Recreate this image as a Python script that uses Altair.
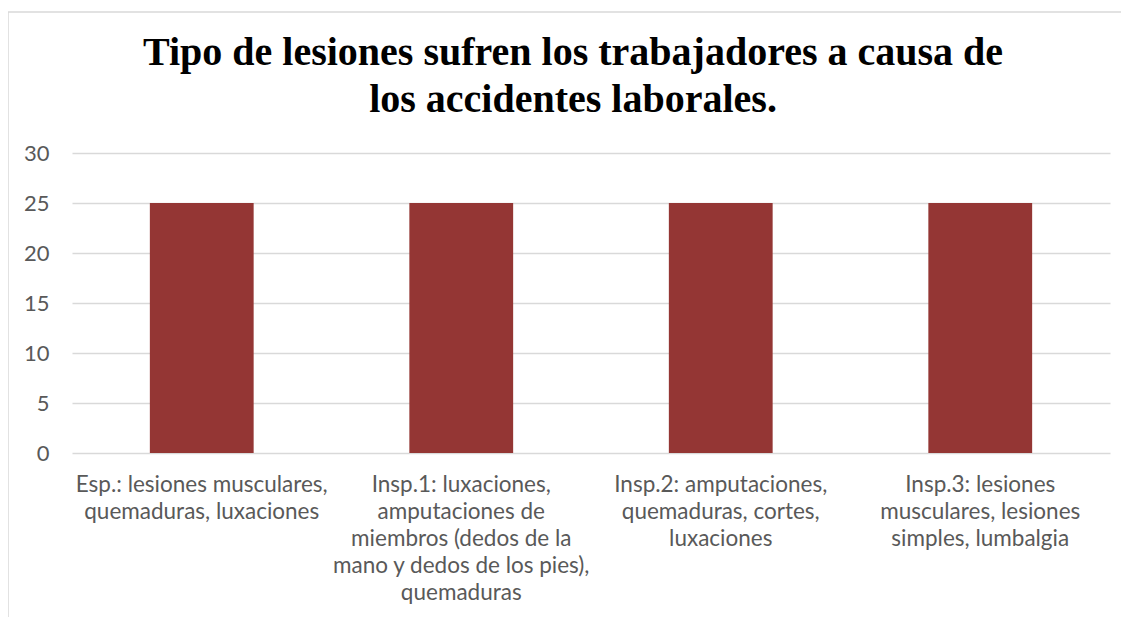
import altair as alt
import pandas as pd

categories = [
    "Esp.: lesiones musculares,\nquemaduras, luxaciones",
    "Insp.1: luxaciones,\namputaciones de\nmiembros (dedos de la\nmano y dedos de los pies),\nquemaduras",
    "Insp.2: amputaciones,\nquemaduras, cortes,\nluxaciones",
    "Insp.3: lesiones\nmusculares, lesiones\nsimples, lumbalgia",
]
values = [25, 25, 25, 25]
y_ticks = [0, 5, 10, 15, 20, 25, 30]
title_lines = [
    "Tipo de lesiones sufren los trabajadores a causa de",
    "los accidentes laborales.",
]

df = pd.DataFrame({"cat": categories, "val": values})

bars = alt.Chart(df).mark_bar(color="#943634").encode(
    x=alt.X(
        "cat:N",
        sort=categories,
        title=None,
        scale=alt.Scale(paddingInner=0.6, paddingOuter=0.3),
        axis=alt.Axis(
            labelAngle=0,
            labelExpr="split(datum.value, '\\n')",
            labelFont="Lato",
            labelFontSize=22.5,
            labelColor="#595959",
            labelLineHeight=27,
            labelPadding=20,
            labelLimit=400,
            ticks=False,
            domain=False,
            grid=False,
        ),
    ),
    y=alt.Y(
        "val:Q",
        title=None,
        scale=alt.Scale(domain=[0, 30]),
        axis=alt.Axis(
            values=y_ticks,
            labelFont="Lato",
            labelFontSize=22,
            labelColor="#595959",
            labelPadding=23,
            ticks=False,
            domain=False,
            grid=True,
            gridColor="#d9d9d9",
            gridWidth=1.5,
        ),
    ),
)

frame = pd.DataFrame({"a": [0]})
top_border = alt.Chart(frame).mark_rule(color="#d9d9d9", strokeWidth=1.5, clip=False).encode(
    x=alt.value(-64), x2=alt.value(1060), y=alt.value(-141)
)
left_border = alt.Chart(frame).mark_rule(color="#d9d9d9", strokeWidth=1.5, clip=False).encode(
    x=alt.value(-64), y=alt.value(-141), y2=alt.value(470)
)

chart = alt.layer(bars, top_border, left_border).properties(
    width=1038,
    height=300,
    padding={"left": 64, "top": 145, "right": 11, "bottom": 164},
    autosize=alt.AutoSizeParams(type="none"),
    title=alt.TitleParams(
        text=title_lines,
        font="Liberation Serif",
        fontSize=40,
        fontWeight="bold",
        color="#000000",
        anchor="middle",
        lineHeight=47,
        dx=-18,
        offset=-109,
    ),
).configure_view(stroke=None)

chart.save("out.html", embed_options={"renderer": "svg", "actions": False})
